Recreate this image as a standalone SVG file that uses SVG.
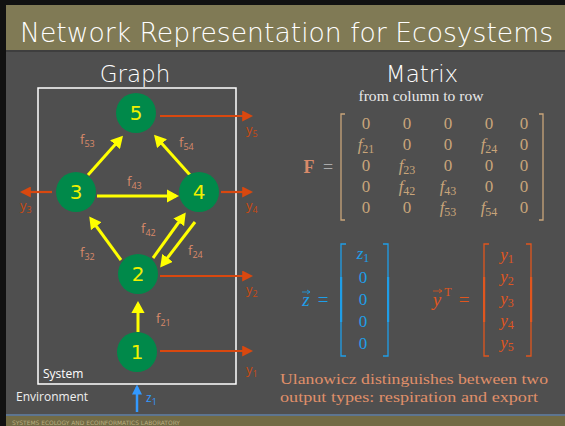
<svg xmlns="http://www.w3.org/2000/svg" width="565" height="426" viewBox="0 0 565 426">
<defs>
<marker id="ay" markerWidth="4" markerHeight="4.4" refX="3" refY="2.2" orient="auto" markerUnits="strokeWidth"><path d="M0,0 L4,2.2 L0,4.4 z" fill="#ffff00"/></marker>
<marker id="ao" markerWidth="5" markerHeight="5" refX="4" refY="2.5" orient="auto" markerUnits="strokeWidth"><path d="M0,0 L5,2.5 L0,5 z" fill="#d9480f"/></marker>
<marker id="ab" markerWidth="4" markerHeight="4" refX="3" refY="2" orient="auto" markerUnits="strokeWidth"><path d="M0,0 L4,2 L0,4 z" fill="#3399ff"/></marker>
</defs>
<style>
.node circle{fill:#00894a}
.node text{fill:#f0f000;font-family:"DejaVu Sans",sans-serif;font-size:20px;text-anchor:middle}
.fy{stroke:#ffff00;stroke-width:3;fill:none;marker-end:url(#ay)}
.fo{stroke:#d9480f;stroke-width:2.2;fill:none;marker-end:url(#ao)}
.fl{fill:#d98a6a;font-family:"Open Sans",sans-serif;font-size:13px}
.fl tspan{font-size:9px}
.yl{fill:#c84a12;font-family:"Open Sans",sans-serif;font-size:13px}
.yl tspan{font-size:9px}
.mt{font-family:"Liberation Serif",serif;font-size:17px;text-anchor:middle}
.mt tspan{font-size:12px;font-style:normal}
.it{font-style:italic}
.ml{fill:#c9a57a}
.zl{fill:#1f9ee8}
.ol{fill:#e0561e}
.hd{fill:#ffffff;font-family:"DejaVu Sans",sans-serif;font-size:23px;text-anchor:middle;font-weight:200}
</style>
<rect width="565" height="426" fill="#4f4f4f"/>
<rect x="0" y="0" width="565" height="5" fill="#111"/>
<rect x="0" y="0" width="6" height="426" fill="#111"/>
<rect x="6" y="5" width="559" height="45" fill="#807a55"/>
<rect x="6" y="50" width="559" height="2" fill="#3e3e3e"/>
<text x="20" y="42" fill="#ffffff" font-family="DejaVu Sans, sans-serif" font-size="27" textLength="533" lengthAdjust="spacingAndGlyphs" font-weight="200">Network Representation for Ecosystems</text>
<rect x="6" y="414" width="559" height="2" fill="#5d7590"/>
<rect x="6" y="416" width="559" height="10" fill="#726b45"/>
<text x="12" y="425" fill="#b9ae80" font-family="DejaVu Sans, sans-serif" font-size="6" textLength="168" lengthAdjust="spacingAndGlyphs">SYSTEMS ECOLOGY AND ECOINFORMATICS LABORATORY</text>

<text class="hd" x="135" y="82">Graph</text>
<text class="hd" x="422" y="82">Matrix</text>

<rect id="system" x="38" y="88" width="198" height="296" fill="none" stroke="#ffffff" stroke-width="1.5"/>
<text x="43" y="378" fill="#ffffff" font-family="Open Sans, sans-serif" font-size="12">System</text>
<text x="16" y="401" fill="#f0f0f0" font-family="Open Sans, sans-serif" font-size="12">Environment</text>

<g id="connectors">
<line class="fy" x1="88" y1="175" x2="121" y2="138"/>
<line class="fy" x1="190" y1="175" x2="156" y2="137"/>
<line class="fy" x1="97" y1="196" x2="176" y2="196"/>
<line class="fy" x1="121" y1="260" x2="91" y2="219"/>
<line class="fy" x1="153" y1="258" x2="184" y2="215"/>
<line class="fy" x1="195" y1="222" x2="162" y2="265"/>
<line class="fy" x1="138" y1="332" x2="138" y2="304"/>
<line class="fo" x1="160" y1="116" x2="251" y2="116"/>
<line class="fo" x1="52" y1="192" x2="22" y2="192"/>
<line class="fo" x1="221" y1="192" x2="251" y2="192"/>
<line class="fo" x1="160" y1="276" x2="251" y2="276"/>
<line class="fo" x1="160" y1="351" x2="251" y2="351"/>
<line x1="137" y1="412" x2="137" y2="387" stroke="#3399ff" stroke-width="2.5" marker-end="url(#ab)"/>
</g>

<g id="n5" class="node"><circle cx="136" cy="113" r="20"/><text x="136" y="120">5</text></g>
<g id="n3" class="node"><circle cx="76" cy="192" r="20"/><text x="76" y="199">3</text></g>
<g id="n4" class="node"><circle cx="199" cy="192" r="20"/><text x="199" y="199">4</text></g>
<g id="n2" class="node"><circle cx="138" cy="274" r="20"/><text x="138" y="281">2</text></g>
<g id="n1" class="node"><circle cx="137" cy="352" r="20"/><text x="137" y="359">1</text></g>

<g id="flabels">
<text class="fl" x="80" y="144">f<tspan dy="3">53</tspan></text>
<text class="fl" x="179" y="147">f<tspan dy="3">54</tspan></text>
<text class="fl" x="127" y="186">f<tspan dy="3">43</tspan></text>
<text class="fl" x="141" y="233">f<tspan dy="3">42</tspan></text>
<text class="fl" x="80" y="257">f<tspan dy="3">32</tspan></text>
<text class="fl" x="188" y="255">f<tspan dy="3">24</tspan></text>
<text class="fl" x="156" y="323">f<tspan dy="3">21</tspan></text>
</g>
<g id="ylabels">
<text class="yl" x="246" y="134">y<tspan dy="3">5</tspan></text>
<text class="yl" x="20" y="210">y<tspan dy="3">3</tspan></text>
<text class="yl" x="246" y="210">y<tspan dy="3">4</tspan></text>
<text class="yl" x="246" y="294">y<tspan dy="3">2</tspan></text>
<text class="yl" x="246" y="374">y<tspan dy="3">1</tspan></text>
<text x="146" y="402" fill="#3399ff" font-family="Open Sans, sans-serif" font-size="12">z<tspan font-size="9" dy="3">1</tspan></text>
</g>

<text x="421" y="101" fill="#e8e8e8" font-family="Liberation Serif, serif" font-size="14" text-anchor="middle" textLength="125" lengthAdjust="spacingAndGlyphs">from column to row</text>

<g id="matrixF" class="mt">
<text x="309" y="173" fill="#d98a6a" font-weight="bold" font-size="18">F</text>
<text x="328" y="173" fill="#aaaaaa" font-size="18">=</text>
<path d="M345,114 H341 V220 H345 M539,114 H543 V220 H539" stroke="#c9a57a" stroke-width="1.3" fill="none"/>
<g class="ml">
<text x="366" y="129">0</text><text x="407" y="129">0</text><text x="448" y="129">0</text><text x="489" y="129">0</text><text x="524" y="129">0</text>
<text x="366" y="150" class="it">f<tspan dy="3">21</tspan></text><text x="407" y="150">0</text><text x="448" y="150">0</text><text x="489" y="150" class="it">f<tspan dy="3">24</tspan></text><text x="524" y="150">0</text>
<text x="366" y="171">0</text><text x="407" y="171" class="it">f<tspan dy="3">23</tspan></text><text x="448" y="171">0</text><text x="489" y="171">0</text><text x="524" y="171">0</text>
<text x="366" y="192">0</text><text x="407" y="192" class="it">f<tspan dy="3">42</tspan></text><text x="448" y="192" class="it">f<tspan dy="3">43</tspan></text><text x="489" y="192">0</text><text x="524" y="192">0</text>
<text x="366" y="213">0</text><text x="407" y="213">0</text><text x="448" y="213" class="it">f<tspan dy="3">53</tspan></text><text x="489" y="213" class="it">f<tspan dy="3">54</tspan></text><text x="524" y="213">0</text>
</g>
</g>

<g id="vectorZ" class="mt zl">
<text x="306" y="306" class="it" font-size="19">z</text>
<path d="M302,292 H310 M307,290 L310,292 L307,294" stroke="#1f9ee8" stroke-width="0.8" fill="none"/>
<text x="323" y="306" font-size="19">=</text>
<path d="M346,244 H341 V356 H346 M383,244 H388 V356 H383" stroke="#1f9ee8" stroke-width="1.3" fill="none"/>
<rect x="340" y="277" width="2.2" height="45" fill="#1f9ee8"/>
<rect x="387" y="277" width="2.2" height="45" fill="#1f9ee8"/>
<text x="363" y="259" class="it">z<tspan dy="3">1</tspan></text>
<text x="363" y="283">0</text><text x="363" y="305">0</text><text x="363" y="327">0</text><text x="363" y="349">0</text>
</g>

<g id="vectorY" class="mt ol">
<text x="437" y="306" class="it" font-size="19">y</text>
<path d="M433,291 H442 M439,289 L442,291 L439,293" stroke="#e0561e" stroke-width="0.8" fill="none"/>
<text x="448" y="296" font-size="12">T</text>
<text x="464" y="306" font-size="19">=</text>
<path d="M489,244 H484 V356 H489 M526,244 H531 V356 H526" stroke="#e0561e" stroke-width="1.3" fill="none"/>
<rect x="483" y="277" width="2.2" height="45" fill="#e0561e"/>
<rect x="530" y="277" width="2.2" height="45" fill="#e0561e"/>
<text x="507" y="260" class="it">y<tspan dy="3">1</tspan></text>
<text x="507" y="282" class="it">y<tspan dy="3">2</tspan></text>
<text x="507" y="304" class="it">y<tspan dy="3">3</tspan></text>
<text x="507" y="326" class="it">y<tspan dy="3">4</tspan></text>
<text x="507" y="348" class="it">y<tspan dy="3">5</tspan></text>
</g>

<g font-family="Liberation Serif, serif" font-size="15" fill="#e0906a">
<text x="280" y="384" textLength="268" lengthAdjust="spacingAndGlyphs">Ulanowicz distinguishes between two</text>
<text x="280" y="402" textLength="258" lengthAdjust="spacingAndGlyphs">output types: respiration and export</text>
</g>
</svg>
